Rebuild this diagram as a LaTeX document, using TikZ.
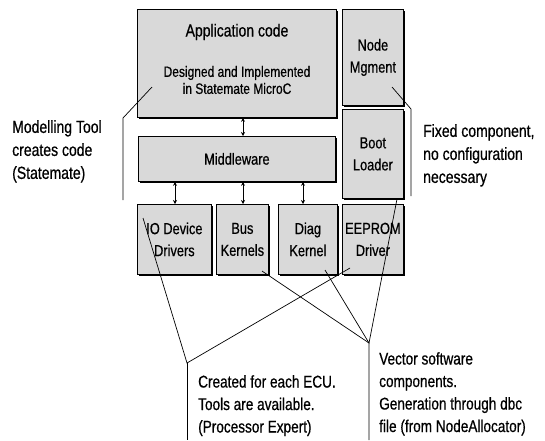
\documentclass[tikz,border=0pt]{standalone}
\usepackage{fontspec}
\setmainfont{Liberation Sans}[FakeStretch=0.8,FakeBold=0.6]
\usetikzlibrary{arrows.meta}
\begin{document}
\begin{tikzpicture}[x=1pt,y=-1pt,
  blk/.style={draw=black, line width=0.8pt, fill=gray!30, anchor=north west,
    inner sep=0pt, align=center, font=\fontsize{16}{22}\selectfont},
  shade/.style={fill=black},
  lbl/.style={anchor=north west, inner sep=0pt, align=left,
    font=\fontsize{17.5}{23}\selectfont},
  note/.style={anchor=north west, inner sep=0pt, align=left,
    font=\fontsize{17}{22.5}\selectfont},
  lead/.style={draw=black, line width=0.7pt},
  link/.style={draw=black, line width=1pt,
    {Stealth[length=4pt,width=4pt]}-{Stealth[length=4pt,width=4pt]}}
]
\useasboundingbox (0,0) rectangle (545,440);

% drop shadows of the boxes
\foreach \xa/\ya/\xb/\yb in {137/9/336/117, 342/9/403/105, 342/109/403/198,
    138/136/335/181, 137/204/211/274, 216/204/268/274, 278/204/337/274,
    342/204/403/274}
  \fill[shade] (\xa+1.5,\ya+1.5) rectangle (\xb+1.5,\yb+1.5);

% component boxes
\node[blk, minimum width=199pt, minimum height=108pt] (app) at (137,9) {};
\node[blk, minimum width=61pt, minimum height=96pt] (nm) at (342,9) {Node\\Mgment};
\node[blk, minimum width=61pt, minimum height=89pt] (boot) at (342,109) {Boot\\Loader};
\node[blk, minimum width=197pt, minimum height=45pt] (mw) at (138,136) {Middleware};
\node[blk, minimum width=74pt, minimum height=70pt] (io) at (137,204) {IO Device\\Drivers};
\node[blk, minimum width=52pt, minimum height=70pt] (bus) at (216,204) {Bus\\Kernels};
\node[blk, minimum width=59pt, minimum height=70pt] (diag) at (278,204) {Diag\\Kernel};
\node[blk, minimum width=61pt, minimum height=70pt] (ee) at (342,204) {EEPROM\\Driver};

% text of the application box
\node[inner sep=0pt, font=\fontsize{17.5}{20}\selectfont] (appT) at (237,32) {Application code};
\node[inner sep=0pt, align=center, font=\fontsize{15}{17}\selectfont] (appD) at (237,80)
  {Designed and Implemented\\in Statemate MicroC};

% interfaces
\draw[link] (app.south -| 243,0) -- (mw.north -| 243,0);
\draw[link] (mw.south -| 175,0) -- (io.north -| 175,0);
\draw[link] (mw.south -| 243,0) -- (bus.north -| 243,0);
\draw[link] (mw.south -| 303,0) -- (diag.north -| 303,0);

% annotations
\node[lbl] (mt) at (12,120) {Modelling Tool\\creates code\\(Statemate)};
\node[lbl] (fc) at (423,124) {Fixed component,\\no configuration\\necessary};
\node[note] (ecu) at (198,375) {Created for each ECU.\\Tools are available.\\(Processor Expert)};
\node[note] (vec) at (379,352) {Vector software\\components.\\Generation through dbc\\file (from NodeAllocator)};

% leader lines
\coordinate (lt) at (123,118);
\coordinate (lb) at (123,200);
\coordinate (la) at (152,87);
\draw[lead] (la) -- (lt) -- (lb);

\coordinate (rt) at (411,109);
\coordinate (rb) at (411,196);
\coordinate (rn) at (392,87);
\draw[lead] (rn) -- (rt) -- (rb);

\coordinate (bl) at (187,363);
\coordinate (blb) at (187,440);
\coordinate (pio) at (143,218);
\coordinate (pee) at (350,268);
\draw[lead] (pio) -- (bl) -- (pee);
\draw[lead] (bl) -- (blb);

\coordinate (br) at (369,343);
\coordinate (brb) at (369,440);
\coordinate (pbus) at (262,271);
\coordinate (pdiag) at (325,270);
\coordinate (pee2) at (397,199);
\draw[lead] (pbus) -- (br) -- (pee2);
\draw[lead] (pdiag) -- (br) -- (brb);
\end{tikzpicture}
\end{document}
